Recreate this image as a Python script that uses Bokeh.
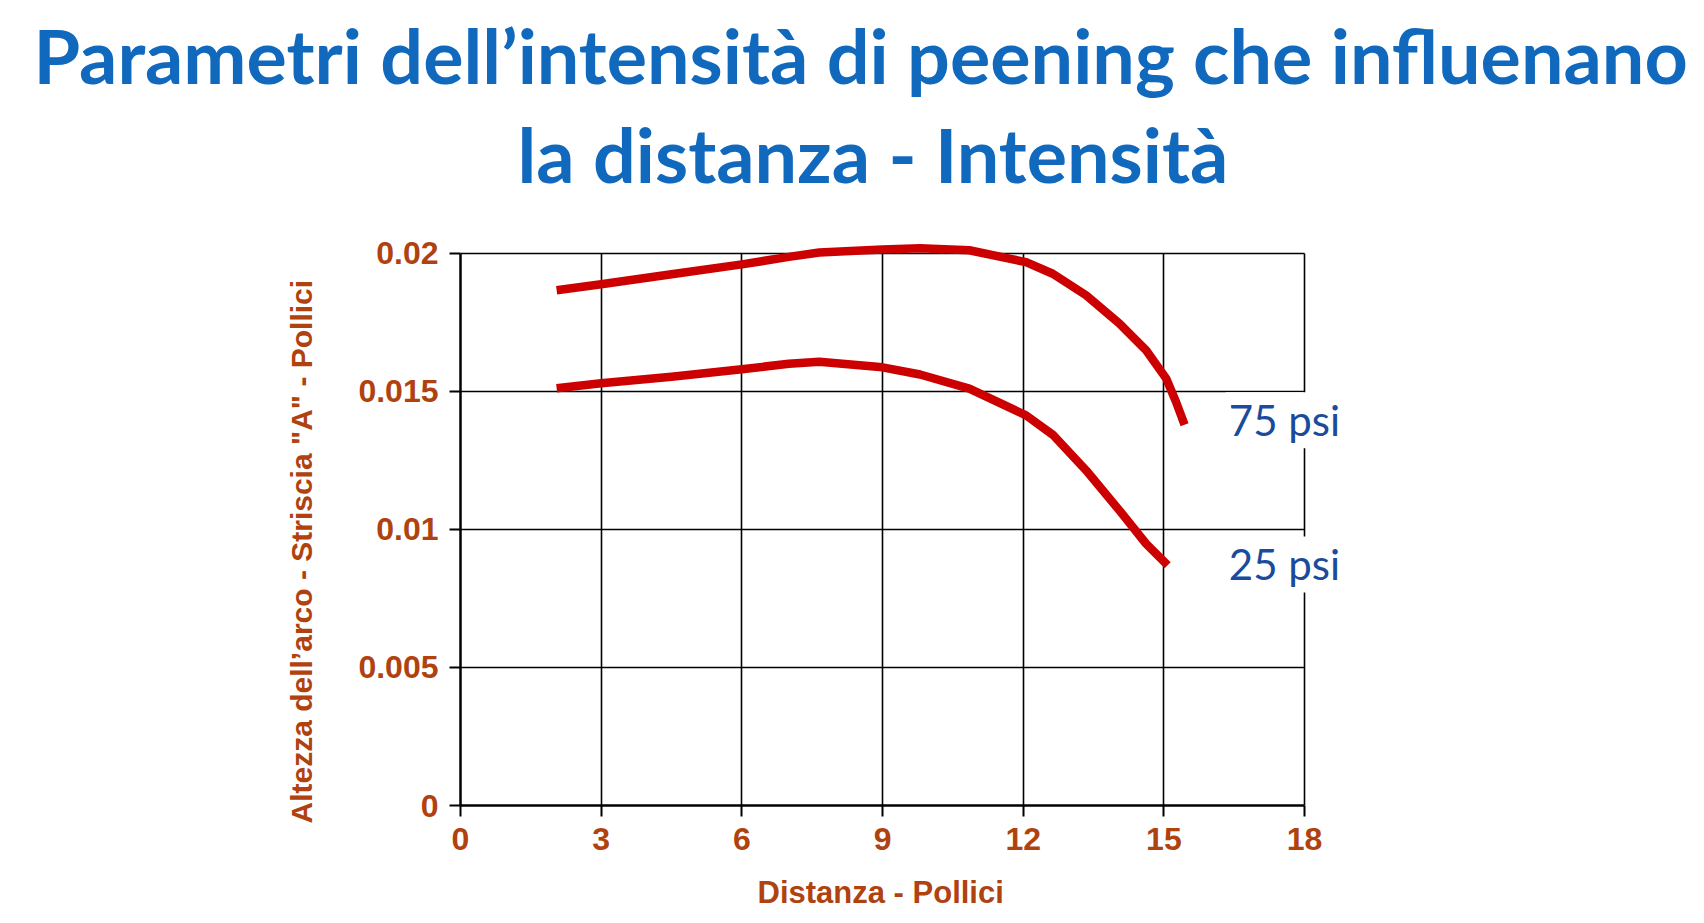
from bokeh.plotting import figure
from bokeh.models import Title, Label, FixedTicker, Range1d, LinearAxis
from bokeh.embed import file_html
from bokeh.resources import INLINE

# ---- data ----
x_75 = [2.05, 3.0, 4.5, 6.0, 7.0, 7.65, 9.0, 9.8, 10.85, 12.06, 12.63, 13.34, 14.05, 14.62, 15.05, 15.26, 15.44]
y_75 = [0.01866, 0.01888, 0.01924, 0.0196, 0.01987, 0.02003, 0.02014, 0.02018, 0.02011, 0.01968,
        0.01926, 0.01848, 0.01746, 0.01649, 0.01546, 0.01461, 0.01379]

x_25 = [2.05, 3.0, 4.5, 6.0, 7.0, 7.65, 9.0, 9.8, 10.85, 12.06, 12.63, 13.34, 14.05, 14.62, 15.08]
y_25 = [0.01511, 0.01529, 0.01553, 0.0158, 0.016, 0.01607, 0.01587, 0.01561, 0.0151, 0.01413,
        0.01343, 0.01214, 0.01069, 0.00948, 0.0087]

series_labels = ["75 psi", "25 psi"]
label_x = [16.32, 16.32]
label_y = [0.01395, 0.00873]

x_ticks = [0, 3, 6, 9, 12, 15, 18]
y_ticks = [0, 0.005, 0.01, 0.015, 0.02]
y_tick_labels = ["0", "0.005", "0.01", "0.015", "0.02"]

title_line1 = "Parametri dell\u2019intensità di peening che influenano"
title_line2 = "la distanza - Intensità"
x_title = "Distanza - Pollici"
y_title = "Altezza dell\u2019arco - Striscia \"A\" - Pollici"

# ---- styles ----
BROWN = "#B0420F"
BLUE_T = "#1169BE"
BLUE_L = "#1A4B9C"
RED = "#CC0000"

p = figure(frame_width=891, frame_height=566, output_backend="svg", toolbar_location=None,
           x_range=Range1d(0, 19.0), y_range=Range1d(0, 0.0205),
           min_border_left=460, min_border_right=337, min_border_top=239, min_border_bottom=100,
           background_fill_color="white", border_fill_color="white", outline_line_color=None)

xax = p.xaxis[0]
yax = p.yaxis[0]
xax.ticker = FixedTicker(ticks=x_ticks)
yax.ticker = FixedTicker(ticks=y_ticks)
yax.major_label_overrides = {v: s for v, s in zip(y_ticks, y_tick_labels)}
xax.bounds = (0, 18)
yax.bounds = (0, 0.02)
for ax in (xax, yax):
    ax.axis_line_color = "black"
    ax.axis_line_width = 2.5
    ax.major_tick_line_color = "black"
    ax.major_tick_line_width = 2
    ax.major_tick_out = 11
    ax.major_tick_in = 0
    ax.minor_tick_line_color = None
    ax.major_label_text_font = "Liberation Sans"
    ax.major_label_text_font_style = "bold"
    ax.major_label_text_font_size = "32px"
    ax.major_label_text_color = BROWN
xax.major_label_standoff = 11
yax.major_label_standoff = 11


def spacer(size):
    # invisible axis used only to reserve space in a side panel
    return LinearAxis(ticker=FixedTicker(ticks=[0]), major_label_overrides={0: ""},
                      axis_line_color=None, major_tick_line_color=None,
                      minor_tick_line_color=None, major_tick_out=size, major_tick_in=0,
                      major_label_standoff=0, major_label_text_font_size="1px")


# titles (stacked outward from the frame)
p.add_layout(spacer(38), "above")
p.add_layout(Title(text=title_line2, align="left", offset=57, text_font="Lato", text_font_style="bold",
                   text_font_size="75.5px", text_color=BLUE_T, standoff=6), "above")
p.add_layout(Title(text=title_line1, align="left", offset=-427, text_font="Lato", text_font_style="bold",
                   text_font_size="75.5px", text_color=BLUE_T, standoff=6), "above")

# axis titles
p.add_layout(spacer(20), "below")
p.add_layout(Title(text=x_title, align="left", offset=297, vertical_align="top",
                   text_font="Liberation Sans", text_font_style="bold", text_font_size="31px",
                   text_color=BROWN, standoff=4), "below")
p.add_layout(Title(text=y_title, align="left", offset=-18, vertical_align="bottom",
                   text_font="Liberation Sans", text_font_style="bold", text_font_size="30px",
                   text_color=BROWN, standoff=76), "left")

# curves
p.line(x_75, y_75, line_color=RED, line_width=8.5, line_join="round")
p.line(x_25, y_25, line_color=RED, line_width=8.5, line_join="round")

for t, lx, ly in zip(series_labels, label_x, label_y):
    p.add_layout(Label(x=lx, y=ly, text=t, text_font="Lato", text_font_size="42px",
                       text_color=BLUE_L, text_baseline="alphabetic",
                       background_fill_color="white", padding=3))

# grid
p.xgrid.ticker = FixedTicker(ticks=x_ticks)
p.ygrid.ticker = FixedTicker(ticks=y_ticks)
p.xgrid.cross_bounds = (0, 0.02)
p.ygrid.cross_bounds = (0, 18)
for g in (p.xgrid, p.ygrid):
    g.grid_line_color = "black"
    g.grid_line_width = 1.6
    g.grid_line_alpha = 1.0

open("out.html", "w").write(file_html(p, INLINE))
